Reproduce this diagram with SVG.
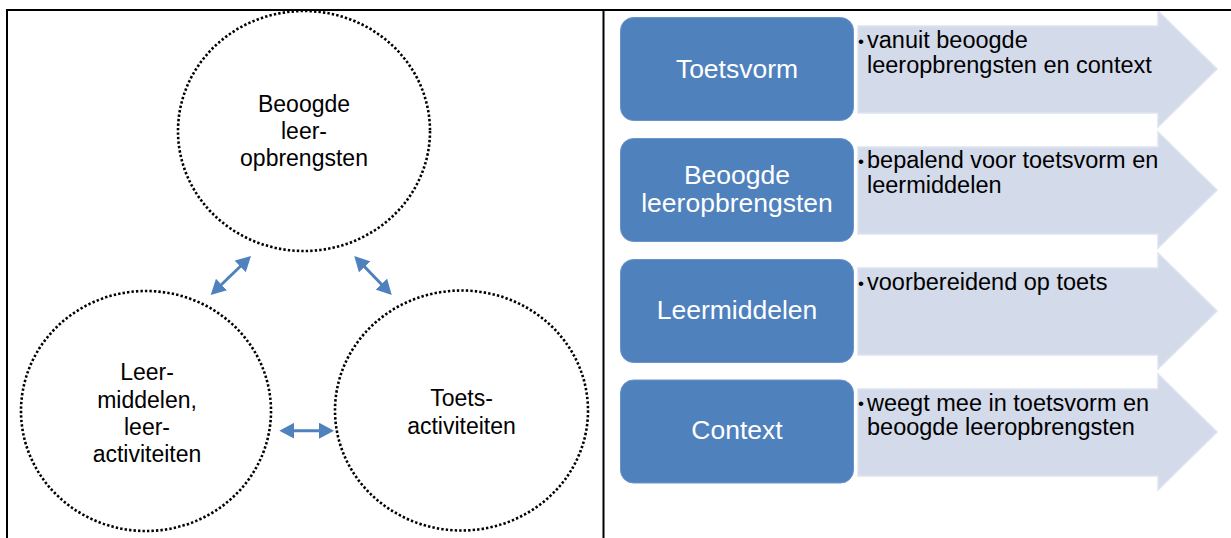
<svg xmlns="http://www.w3.org/2000/svg" width="1231" height="538" viewBox="0 0 1231 538">
<defs>
<style>
.frame{stroke:#000;stroke-width:2;fill:none}
.circ{fill:none;stroke:#000;stroke-width:2.6;stroke-dasharray:2.4 2.1}
.ct{font-family:"Liberation Sans",Arial,sans-serif;font-size:23px;fill:#000;text-anchor:middle}
.box{fill:#4F81BD;stroke:#6A94C8;stroke-width:1}
.bt{font-family:"Liberation Sans",Arial,sans-serif;font-size:26.5px;fill:#fff;text-anchor:middle}
.arr{fill:#D3DAEA;stroke:#DEE3EF;stroke-width:1.5}
.tt{font-family:"Liberation Sans",Arial,sans-serif;font-size:23.5px;fill:#000}
.bul{font-family:"Liberation Sans",Arial,sans-serif;font-size:17px;fill:#000}
.con{stroke:#4F81BD;stroke-width:3;fill:none;marker-start:url(#ah);marker-end:url(#ah)}
</style>
<marker id="ah" viewBox="0 0 15 16" refX="5" refY="8" markerWidth="15" markerHeight="16" markerUnits="userSpaceOnUse" orient="auto-start-reverse">
<path d="M0,0 L15,8 L0,16 z" fill="#4F81BD"/>
</marker>
</defs>
<rect width="1231" height="538" fill="#fff"/>

<g id="node-beoogde">
<ellipse class="circ" cx="304" cy="131" rx="126" ry="120"/>
<text class="ct" x="304" y="112">Beoogde</text>
<text class="ct" x="304" y="139">leer-</text>
<text class="ct" x="304" y="166">opbrengsten</text>
</g>
<g id="node-leermiddelen">
<ellipse class="circ" cx="146" cy="411" rx="125" ry="120"/>
<text class="ct" x="147" y="380">Leer-</text>
<text class="ct" x="147" y="407.5">middelen,</text>
<text class="ct" x="147" y="435">leer-</text>
<text class="ct" x="147" y="462">activiteiten</text>
</g>
<g id="node-toets">
<ellipse class="circ" cx="461.5" cy="410.5" rx="126.5" ry="120"/>
<text class="ct" x="461.5" y="406">Toets-</text>
<text class="ct" x="461.5" y="434">activiteiten</text>
</g>

<g id="connectors">
<line class="con" x1="243.8" y1="263" x2="217.9" y2="288"/>
<line class="con" x1="361.2" y1="263.2" x2="384.8" y2="287.8"/>
<line class="con" x1="289.3" y1="430.7" x2="324" y2="430.7"/>
</g>

<g id="row-toetsvorm">
<path class="arr" d="M858,26 H1158 V11 L1217,69 L1158,127 V113 H858 Z"/>
<rect class="box" x="620.5" y="17.5" width="233" height="103" rx="13"/>
<text class="bt" x="737" y="78">Toetsvorm</text>
<text class="bul" x="858" y="47">•</text>
<text class="tt" x="867" y="48">vanuit beoogde</text>
<text class="tt" x="867" y="72.5">leeropbrengsten en context</text>
</g>
<g id="row-beoogde">
<path class="arr" d="M858,147 H1158 V132 L1217,190 L1158,248 V234 H858 Z"/>
<rect class="box" x="620.5" y="138.5" width="233" height="103" rx="13"/>
<text class="bt" x="737" y="184">Beoogde</text>
<text class="bt" x="737" y="212">leeropbrengsten</text>
<text class="bul" x="858" y="166.5">•</text>
<text class="tt" x="867" y="168">bepalend voor toetsvorm en</text>
<text class="tt" x="867" y="192.5">leermiddelen</text>
</g>
<g id="row-leermiddelen">
<path class="arr" d="M858,268 H1158 V253 L1217,311 L1158,369 V355 H858 Z"/>
<rect class="box" x="620.5" y="259.5" width="233" height="103" rx="13"/>
<text class="bt" x="737" y="319">Leermiddelen</text>
<text class="bul" x="858" y="288.5">•</text>
<text class="tt" x="867" y="290">voorbereidend op toets</text>
</g>
<g id="row-context">
<path class="arr" d="M858,389 H1158 V374 L1217,432 L1158,490 V476 H858 Z"/>
<rect class="box" x="620.5" y="380" width="233" height="103" rx="13"/>
<text class="bt" x="737" y="439">Context</text>
<text class="bul" x="858" y="409">•</text>
<text class="tt" x="867" y="410.5">weegt mee in toetsvorm en</text>
<text class="tt" x="867" y="435">beoogde leeropbrengsten</text>
</g>

<g id="frame">
<line class="frame" x1="7" y1="10" x2="1231" y2="10"/>
<line class="frame" x1="7" y1="9" x2="7" y2="538"/>
<line class="frame" x1="603.5" y1="10" x2="603.5" y2="538"/>
</g>
</svg>
